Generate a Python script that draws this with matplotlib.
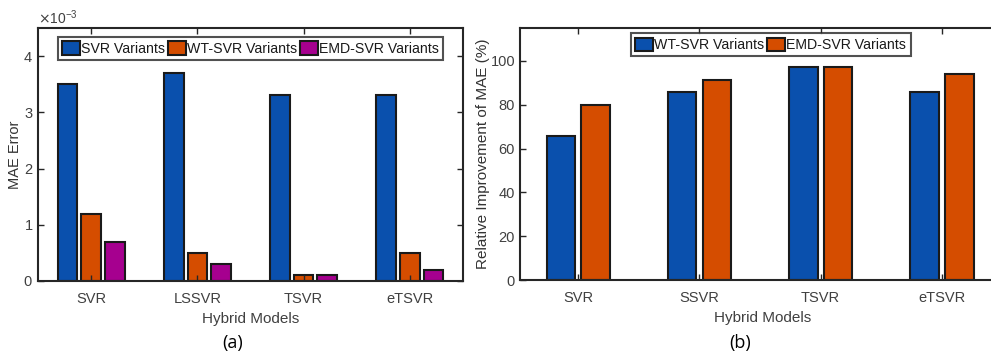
import numpy as np
import matplotlib
matplotlib.use('Agg')
from matplotlib import pyplot as plt
from matplotlib.ticker import ScalarFormatter

plt.rcParams['font.family'] = ['Liberation Sans', 'DejaVu Sans']

# data (a)
models_a = ['SVR', 'LSSVR', 'TSVR', 'eTSVR']
mae_svr = [3.5e-3, 3.7e-3, 3.3e-3, 3.3e-3]
mae_wt = [1.2e-3, 0.5e-3, 0.1e-3, 0.5e-3]
mae_emd = [0.7e-3, 0.3e-3, 0.1e-3, 0.2e-3]

# data (b)
models_b = ['SVR', 'SSVR', 'TSVR', 'eTSVR']
imp_wt = [65.8, 85.9, 97.2, 86.0]
imp_emd = [80.0, 91.4, 97.2, 94.2]

blue = '#0A50AD'
orange = '#D54D00'
magenta = '#A6008F'
grey = '#262626'

fig = plt.figure(figsize=(9.91, 3.59), dpi=100)

def style(ax):
    for s in ax.spines.values():
        s.set_linewidth(1.5)
        s.set_color(grey)
    ax.tick_params(direction='in', top=True, right=True, length=4, width=1,
                   colors=grey, labelsize=10.5, labelcolor='#404040')
    ax.tick_params(axis='x', pad=8)

# (a)
ax1 = fig.add_axes([0.0383, 0.2173, 0.4289, 0.7047])
x = np.arange(1, 5)
w = 0.185
d = 0.222
kw = dict(edgecolor='#1a1a1a', linewidth=1.5)
ax1.bar(x - d, mae_svr, w, color=blue, label='SVR Variants', **kw)
ax1.bar(x, mae_wt, w, color=orange, label='WT-SVR Variants', **kw)
ax1.bar(x + d, mae_emd, w, color=magenta, label='EMD-SVR Variants', **kw)
ax1.set_xlim(0.5, 4.5)
ax1.set_ylim(0, 4.5e-3)
ax1.set_xticks(x)
ax1.set_xticklabels(models_a)
ax1.set_yticks([0, 1e-3, 2e-3, 3e-3, 4e-3])
fmt = ScalarFormatter(useMathText=True)
fmt.set_powerlimits((0, 0))
ax1.yaxis.set_major_formatter(fmt)
ax1.yaxis.get_offset_text().set_color('#404040')
ax1.yaxis.get_offset_text().set_fontsize(10)
ax1.set_ylabel('MAE Error', fontsize=10.5, color='#333333', labelpad=1)
ax1.set_xlabel('Hybrid Models', fontsize=11, color='#404040', labelpad=4)
style(ax1)
leg = ax1.legend(ncol=3, loc='upper center', bbox_to_anchor=(0.5, 0.975), fontsize=10.2,
                 fancybox=False, edgecolor=grey, handlelength=1.25, handleheight=1.1,
                 handletextpad=0.1, columnspacing=0.2, borderpad=0.3, borderaxespad=0.2)
leg.get_frame().set_linewidth(1.5)
for t in leg.get_texts():
    t.set_color('#1a1a1a')

# (b)
ax2 = fig.add_axes([0.5247, 0.22, 0.4894, 0.702])
w2 = 0.235
d2 = 0.143
ax2.bar(x - d2, imp_wt, w2, color=blue, label='WT-SVR Variants', **kw)
ax2.bar(x + d2, imp_emd, w2, color=orange, label='EMD-SVR Variants', **kw)
ax2.set_xlim(0.52, 4.52)
ax2.set_ylim(0, 115)
ax2.set_xticks(x)
ax2.set_xticklabels(models_b)
ax2.set_yticks([0, 20, 40, 60, 80, 100])
ax2.set_ylabel('Relative Improvement of MAE (%)', fontsize=11, color='#333333', labelpad=0)
ax2.set_xlabel('Hybrid Models', fontsize=11, color='#404040', labelpad=4)
style(ax2)
leg2 = ax2.legend(ncol=2, loc='upper left', bbox_to_anchor=(0.223, 0.99), fontsize=10.2,
                  fancybox=False, edgecolor=grey, handlelength=1.25, handleheight=1.1,
                  handletextpad=0.1, columnspacing=0.2, borderpad=0.3, borderaxespad=0.2)
leg2.get_frame().set_linewidth(1.5)
for t in leg2.get_texts():
    t.set_color('#1a1a1a')

fig.text(233 / 991, 1 - 343 / 359, '(a)', fontsize=13, ha='center', va='center',
         family=['Open Sans', 'DejaVu Sans'])
fig.text(740 / 991, 1 - 343 / 359, '(b)', fontsize=13, ha='center', va='center',
         family=['Open Sans', 'DejaVu Sans'])

plt.savefig('out.png', dpi=100)
